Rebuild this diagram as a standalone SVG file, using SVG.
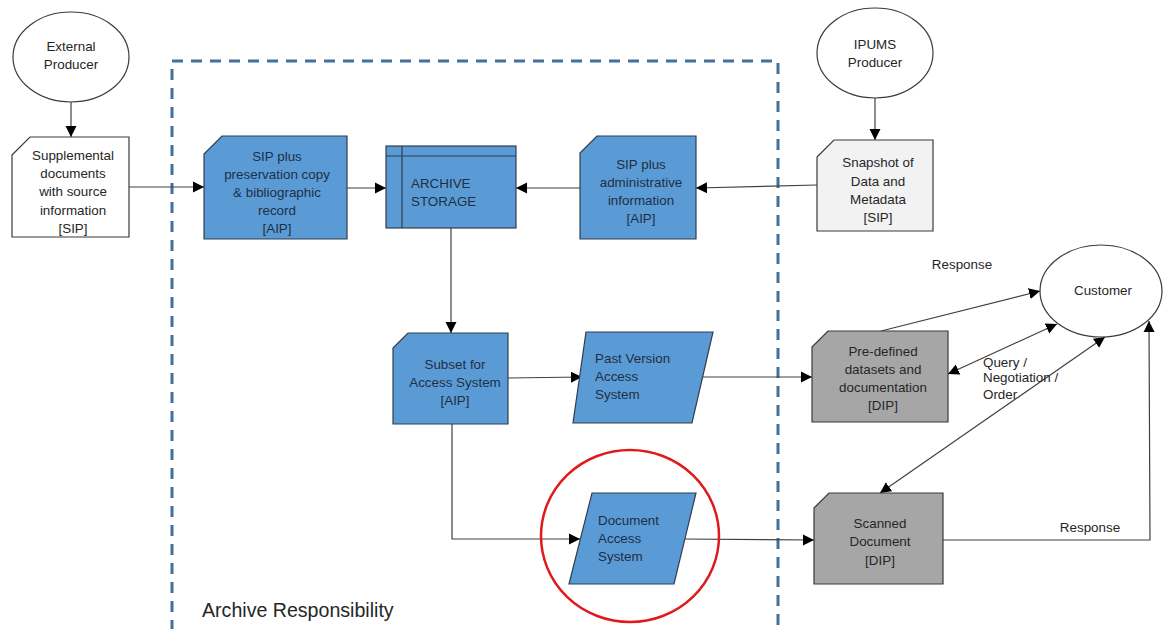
<svg xmlns="http://www.w3.org/2000/svg" width="1164" height="629" viewBox="0 0 1164 629">
<style>
text{font-family:"Liberation Sans",Arial,sans-serif;font-size:13.4px;fill:#262626}
.c{text-anchor:middle}
.bt{fill:#1E2F45}
.blue{fill:#5B9BD5;stroke:#2F3E50;stroke-width:1.2}
.grey{fill:#A6A6A6;stroke:#3A3A3A;stroke-width:1.2}
.light{fill:#F2F2F2;stroke:#3A3A3A;stroke-width:1.2}
.white{fill:#FFFFFF;stroke:#3A3A3A;stroke-width:1.2}
.ln{fill:none;stroke:#404040;stroke-width:1.2}
</style>
<defs>
<marker id="ah" markerUnits="userSpaceOnUse" markerWidth="12" markerHeight="12" refX="11" refY="6" orient="auto-start-reverse" viewBox="0 0 12 12">
<path d="M0,0.5 L11,6 L0,11.5 Z" fill="#000"/>
</marker>
</defs>
<rect width="1164" height="629" fill="#fff"/>

<g id="archive-boundary">
<rect x="172" y="61" width="606" height="572" fill="none" stroke="#41719C" stroke-width="3" stroke-dasharray="11 8"/>
<text x="202" y="617" style="font-size:19.6px;fill:#262626">Archive Responsibility</text>
</g>

<g id="connectors">
<line class="ln" x1="71" y1="102" x2="71" y2="137" marker-end="url(#ah)"/>
<line class="ln" x1="129" y1="187" x2="204" y2="187" marker-end="url(#ah)"/>
<line class="ln" x1="347" y1="188" x2="386" y2="188" marker-end="url(#ah)"/>
<line class="ln" x1="580" y1="188" x2="516" y2="188" marker-end="url(#ah)"/>
<line class="ln" x1="817" y1="185" x2="696" y2="188" marker-end="url(#ah)"/>
<line class="ln" x1="875" y1="98" x2="875" y2="140" marker-end="url(#ah)"/>
<line class="ln" x1="451" y1="228" x2="451" y2="333" marker-end="url(#ah)"/>
<line class="ln" x1="508" y1="378" x2="582" y2="377" marker-end="url(#ah)"/>
<line class="ln" x1="703" y1="377" x2="812" y2="377" marker-end="url(#ah)"/>
<polyline class="ln" points="452,424 452,539 580,539" marker-end="url(#ah)"/>
<line class="ln" x1="683" y1="539" x2="814" y2="540" marker-end="url(#ah)"/>
<line class="ln" x1="881" y1="331" x2="1040" y2="291" marker-end="url(#ah)"/>
<line class="ln" x1="948" y1="374" x2="1057" y2="324" marker-start="url(#ah)" marker-end="url(#ah)"/>
<line class="ln" x1="880" y1="493" x2="1105" y2="337" marker-start="url(#ah)" marker-end="url(#ah)"/>
<polyline class="ln" points="943,540 1150,540 1149,321" marker-end="url(#ah)"/>
<text x="962" y="269" class="c">Response</text>
<text x="983" y="367">Query /</text>
<text x="983" y="382">Negotiation /</text>
<text x="983" y="399">Order</text>
<text x="1090" y="532" class="c">Response</text>
</g>

<g id="external-producer">
<ellipse class="white" cx="71" cy="57" rx="58" ry="45"/>
<text x="71" y="51" class="c">External</text>
<text x="71" y="69" class="c">Producer</text>
</g>

<g id="supplemental">
<path class="white" d="M12,155 L30,137 L129,137 L129,237 L12,237 Z"/>
<text x="73" y="160" class="c">Supplemental</text>
<text x="73" y="178" class="c">documents</text>
<text x="73" y="196" class="c">with source</text>
<text x="73" y="215" class="c">information</text>
<text x="73" y="233" class="c">[SIP]</text>
</g>

<g id="sip-preservation">
<path class="blue" d="M204,154 L222,136 L347,136 L347,239 L204,239 Z"/>
<text x="277" y="161" class="c bt">SIP plus</text>
<text x="277" y="179" class="c bt">preservation copy</text>
<text x="277" y="197" class="c bt">&amp; bibliographic</text>
<text x="277" y="215" class="c bt">record</text>
<text x="277" y="233" class="c bt">[AIP]</text>
</g>

<g id="archive-storage">
<rect class="blue" x="386" y="146" width="130" height="82"/>
<line x1="386" y1="156" x2="516" y2="156" stroke="#2F3E50" stroke-width="1.2"/>
<line x1="402" y1="146" x2="402" y2="228" stroke="#2F3E50" stroke-width="1.2"/>
<text x="411" y="188" class="bt">ARCHIVE</text>
<text x="411" y="206" class="bt">STORAGE</text>
</g>

<g id="sip-administrative">
<path class="blue" d="M580,153 L597,136 L696,136 L696,239 L580,239 Z"/>
<text x="641" y="169" class="c bt">SIP plus</text>
<text x="641" y="187" class="c bt">administrative</text>
<text x="641" y="205" class="c bt">information</text>
<text x="641" y="223" class="c bt">[AIP]</text>
</g>

<g id="ipums-producer">
<ellipse class="white" cx="875" cy="53" rx="58" ry="45"/>
<text x="875" y="49" class="c">IPUMS</text>
<text x="875" y="67" class="c">Producer</text>
</g>

<g id="snapshot">
<path class="light" d="M817,157 L834,140 L933,140 L933,231 L817,231 Z"/>
<text x="878" y="167" class="c">Snapshot of</text>
<text x="878" y="186" class="c">Data and</text>
<text x="878" y="204" class="c">Metadata</text>
<text x="878" y="222" class="c">[SIP]</text>
</g>

<g id="subset-access">
<path class="blue" d="M393,348 L408,333 L508,333 L508,424 L393,424 Z"/>
<text x="455" y="369" class="c bt">Subset for</text>
<text x="455" y="387" class="c bt">Access System</text>
<text x="455" y="405" class="c bt">[AIP]</text>
</g>

<g id="past-version">
<path class="blue" d="M586,332 L713,332 L692,423 L573,423 Z"/>
<text x="595" y="363" class="bt">Past Version</text>
<text x="595" y="381" class="bt">Access</text>
<text x="595" y="399" class="bt">System</text>
</g>

<g id="document-access">
<path class="blue" d="M592,493 L696,493 L674,584 L569,584 Z"/>
<text x="598" y="525" class="bt">Document</text>
<text x="598" y="543" class="bt">Access</text>
<text x="598" y="561" class="bt">System</text>
<ellipse cx="630" cy="536" rx="89" ry="86" fill="none" stroke="#E0191B" stroke-width="2.5"/>
</g>

<g id="predefined">
<path class="grey" d="M812,347 L828,331 L948,331 L948,422 L812,422 Z"/>
<text x="883" y="356" class="c">Pre-defined</text>
<text x="883" y="374" class="c">datasets and</text>
<text x="883" y="392" class="c">documentation</text>
<text x="883" y="410" class="c">[DIP]</text>
</g>

<g id="scanned">
<path class="grey" d="M814,508 L829,493 L943,493 L943,584 L814,584 Z"/>
<text x="880" y="528" class="c">Scanned</text>
<text x="880" y="546" class="c">Document</text>
<text x="880" y="565" class="c">[DIP]</text>
</g>

<g id="customer">
<ellipse class="white" cx="1101" cy="291" rx="61" ry="46"/>
<text x="1103" y="295" class="c">Customer</text>
</g>
</svg>
